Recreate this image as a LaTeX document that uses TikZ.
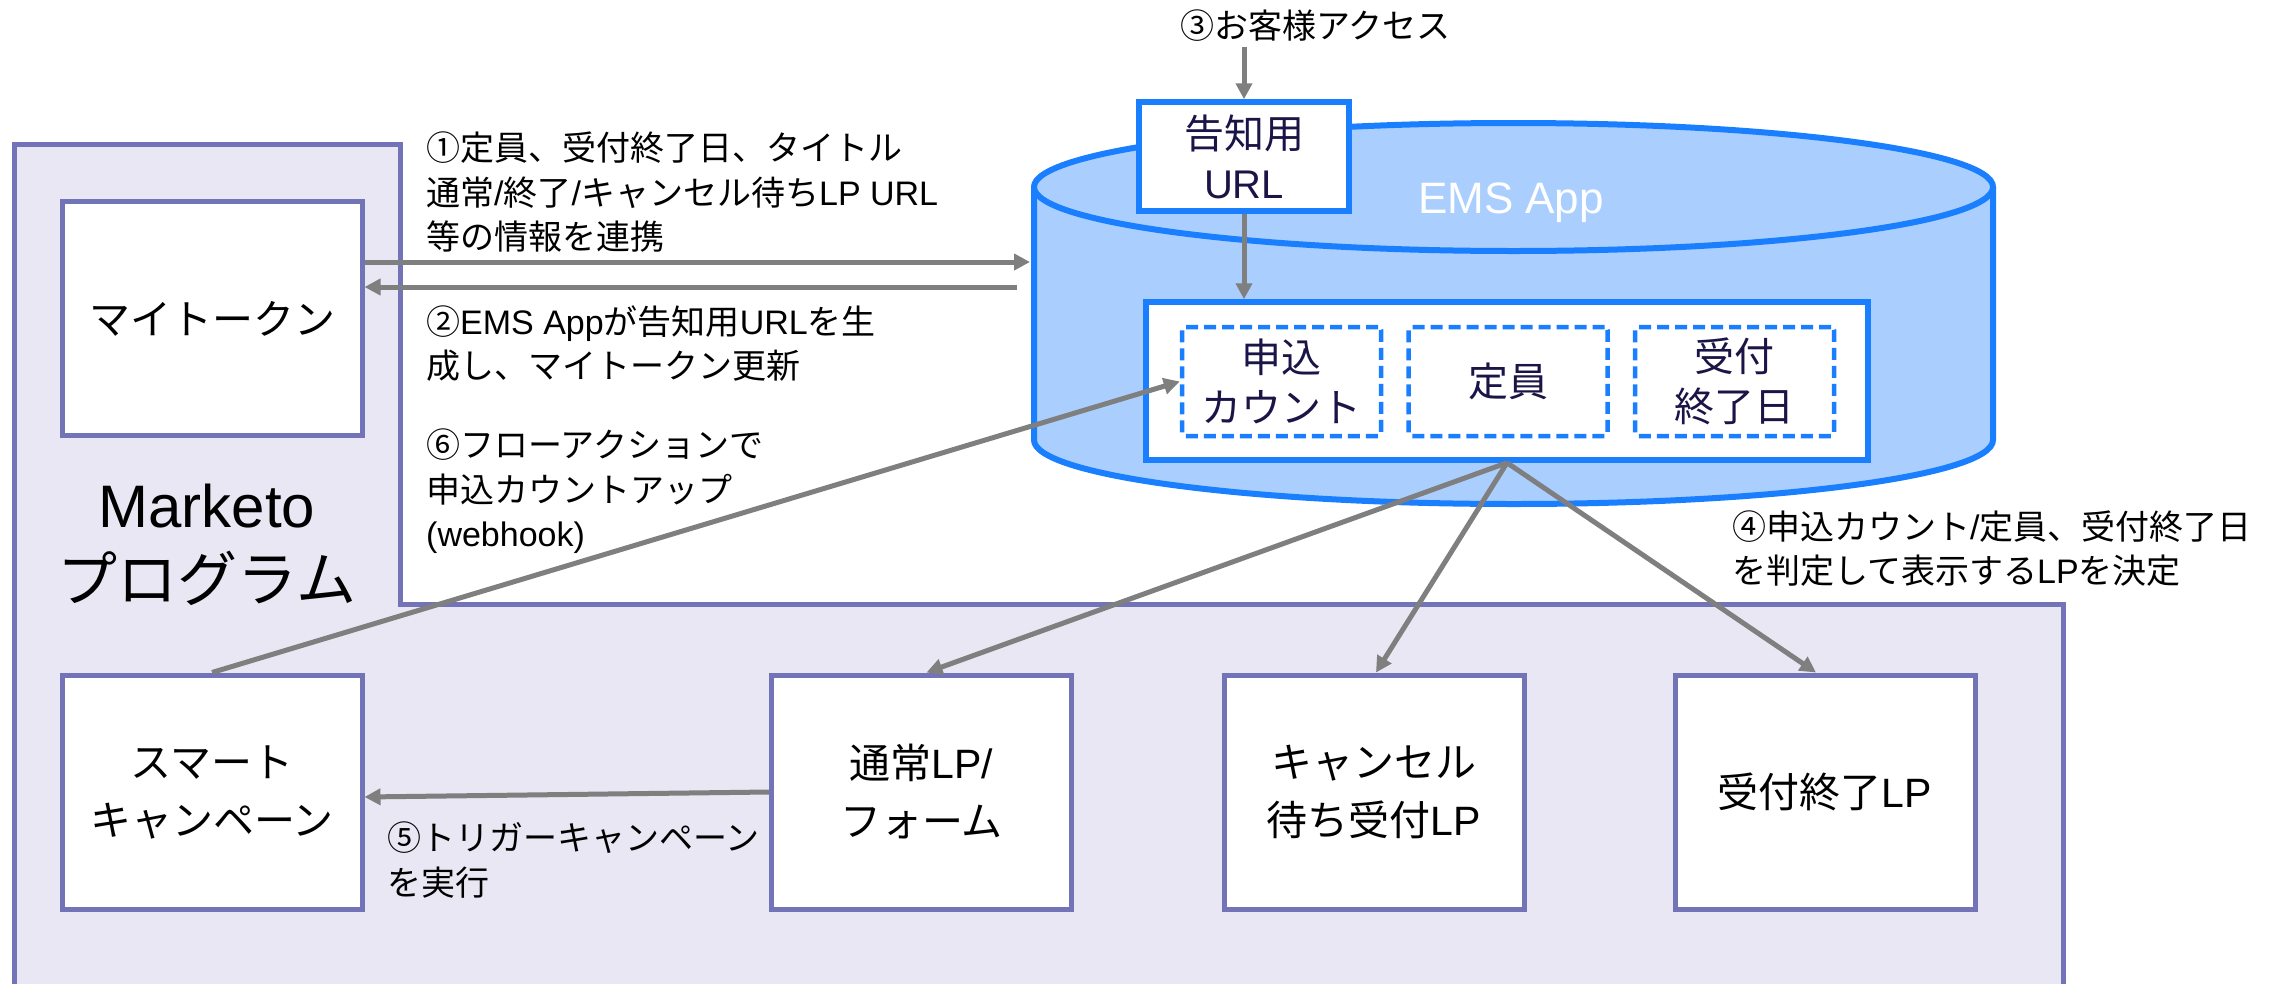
\documentclass[tikz,border=0pt]{standalone}
\usepackage{fontspec}
\setmainfont{Noto Sans CJK JP}
\newfontfamily\lat{Liberation Sans}
\usetikzlibrary{arrows.meta}
\definecolor{mkfill}{HTML}{E9E7F3}
\definecolor{mkline}{HTML}{7373B7}
\definecolor{cylfill}{HTML}{AACFFE}
\definecolor{cylline}{HTML}{1A7FFF}
\definecolor{arrowgray}{HTML}{7F7F7F}
\definecolor{navy}{HTML}{1B1547}
\newcommand\La[1]{{\lat #1}}
\begin{document}
\begin{tikzpicture}[x=1pt,y=-1pt,
  lpbox/.style={draw=mkline, line width=5pt, fill=white, minimum width=300pt, minimum height=234pt, inner sep=0pt, align=center, font=\fontsize{41}{58}\selectfont},
  cylbox/.style={draw=cylline, line width=5.5pt, fill=white, inner sep=0pt, align=center, text=navy, font=\fontsize{40}{50}\selectfont},
  dbox/.style={draw=cylline, line width=4.5pt, dash pattern=on 12pt off 6pt, rounded corners=3pt, fill=white, minimum width=199pt, minimum height=109pt, inner sep=0pt, text=navy, align=center, font=\fontsize{40}{50}\selectfont},
  lbl/.style={anchor=west, align=left, inner sep=0pt, font=\fontsize{34}{44.5}\selectfont},
  conn/.style={draw=arrowgray, line width=5pt, -{Triangle[length=16pt,width=16pt]}}
]
\useasboundingbox (0,0) rectangle (2278,983);
% Marketo program area
\draw[fill=mkfill, draw=mkline, line width=5pt] (14,144) -- (400,144) -- (400,604) -- (2063,604) -- (2063,1000) -- (14,1000) -- cycle;
\node[font=\fontsize{60}{74}\selectfont, align=center] (mklabel) at (207,545) {\La{Marketo}\\プログラム};
% EMS App cylinder
\path[fill=cylfill, draw=cylline, line width=6pt] (1034,187) -- (1034,440) arc[start angle=180, end angle=360, x radius=479.5pt, y radius=64pt] -- (1993,187);
\draw[fill=cylfill, draw=cylline, line width=6pt] (1513.5,187) ellipse [x radius=479.5pt, y radius=64pt];
\node[text=white, font=\lat\fontsize{44}{50}\selectfont] (ems) at (1511,203) {EMS App};
\node[cylbox, minimum width=210pt, minimum height=109pt] (url) at (1244,156.5) {告知用\\\La{URL}};
\node[cylbox, minimum width=722pt, minimum height=158pt] (inner) at (1507,381) {};
\node[dbox] (ap) at (1281.5,381.5) {申込\\カウント};
\node[dbox] (cap) at (1508,381.5) {定員};
\node[dbox] (dl) at (1734.5,381.5) {受付\\終了日};
% boxes
\node[lpbox] (mytoken) at (212,318.5) {マイトークン};
\node[lpbox] (smart) at (212,792) {スマート\\キャンペーン};
\node[lpbox] (normal) at (921.5,792) {通常\La{LP/}\\フォーム};
\node[lpbox] (cancel) at (1374,792) {キャンセル\\待ち受付\La{LP}};
\node[lpbox] (closed) at (1825,792) {受付終了\La{LP}};
% connectors
\coordinate (acc) at (1244,47);
\coordinate (cylA) at (1030,262);
\coordinate (cylB) at (1017,287);
\draw[conn] (acc) -- (url.north);
\draw[conn] (url.south) -- (url.south |- inner.north);
\draw[conn] (mytoken.east |- cylA) -- (cylA);
\draw[conn] (cylB) -- (mytoken.east |- cylB);
\draw[conn] (smart.north) -- (ap.west);
\draw[conn] (inner.south) -- ([xshift=5pt]normal.north);
\draw[conn] (inner.south) -- ([xshift=2pt]cancel.north);
\draw[conn] (inner.south) -- ([xshift=-9pt]closed.north);
\draw[conn] (normal.west) -- ([yshift=-5pt]smart.east);
% labels
\node[lbl] (l3) at (1180,26) {③お客様アクセス};
\node[lbl] (l1) at (426,192.5) {①定員、受付終了日、タイトル\\通常\La{/}終了\La{/}キャンセル待ち\La{LP URL}\\等の情報を連携};
\node[lbl] (l2) at (426,343.5) {②\La{EMS App}が告知用\La{URL}を生\\成し、マイトークン更新};
\node[lbl] (l6) at (426,491.5) {⑥フローアクションで\\申込カウントアップ\\\La{(webhook)}};
\node[lbl] (l4) at (1732,548.5) {④申込カウント\La{/}定員、受付終了日\\を判定して表示する\La{LP}を決定};
\node[lbl] (l5) at (387,860) {⑤トリガーキャンペーン\\を実行};
\end{tikzpicture}
\end{document}
